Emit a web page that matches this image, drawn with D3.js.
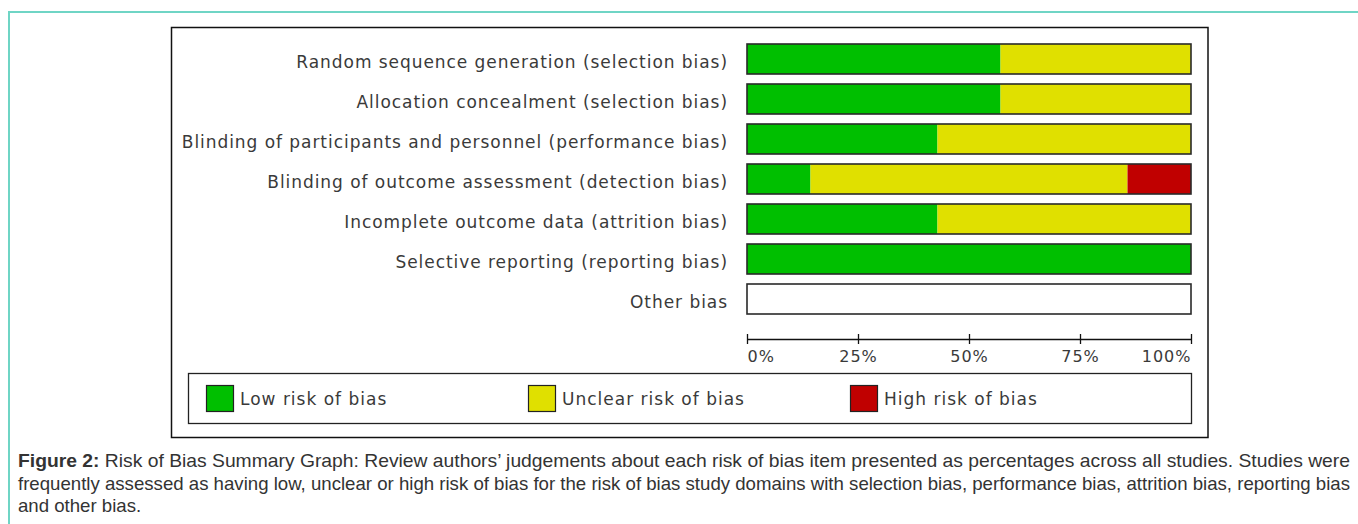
<!DOCTYPE html>
<html>
<head>
<meta charset="utf-8">
<script src="https://cdn.jsdelivr.net/npm/d3@7"></script>
<style>
  body { margin: 0; background: #fff; }
  svg { display: block; }
  .lbl { font-family: "DejaVu Sans", Verdana, sans-serif; fill: #3a3a3a; }
  .cap { font-family: "Liberation Sans", Arial, sans-serif; fill: #333; font-size: 18.5px; }
</style>
</head>
<body>
<svg id="chart"></svg>
<script>
// Chart data (percent of studies, 7 studies)
const domains = [
  "Random sequence generation (selection bias)",
  "Allocation concealment (selection bias)",
  "Blinding of participants and personnel (performance bias)",
  "Blinding of outcome assessment (detection bias)",
  "Incomplete outcome data (attrition bias)",
  "Selective reporting (reporting bias)",
  "Other bias"
];
const lowRisk     = [57.1, 57.1, 42.9, 14.3, 42.9, 100, 0];
const unclearRisk = [42.9, 42.9, 57.1, 71.4, 57.1, 0, 0];
const highRisk    = [0, 0, 0, 14.3, 0, 0, 0];
const riskKeys = ["low", "unclear", "high"];
const legendLabels = ["Low risk of bias", "Unclear risk of bias", "High risk of bias"];
const tickValues = [0, 25, 50, 75, 100];

const captionLines = [
  ["Figure 2:", " Risk of Bias Summary Graph: Review authors\u2019 judgements about each risk of bias item presented as percentages across all studies. Studies were"],
  ["", "frequently assessed as having low, unclear or high risk of bias for the risk of bias study domains with selection bias, performance bias, attrition bias, reporting bias"],
  ["", "and other bias."]
];

const W = 1358, H = 524;
const svg = d3.select("#chart").attr("width", W).attr("height", H);

// page frame (teal rule top and left)
svg.append("path")
  .attr("d", `M9,${H} V12 H${W}`)
  .attr("fill", "none")
  .attr("stroke", "#6fd5c5")
  .attr("stroke-width", 2);

// figure box
svg.append("rect")
  .attr("x", 171.5).attr("y", 27.5)
  .attr("width", 1036.5).attr("height", 410)
  .attr("fill", "#fff")
  .attr("stroke", "#111")
  .attr("stroke-width", 1.5);

const data = domains.map((d, i) => ({
  domain: d, low: lowRisk[i], unclear: unclearRisk[i], high: highRisk[i]
}));

const x = d3.scaleLinear().domain([0, 100]).range([747, 1191]);
const y = d3.scaleBand().domain(domains).range([44, 314]).paddingInner(0.25);
const color = d3.scaleOrdinal().domain(riskKeys).range(["#00bf00", "#e0e000", "#c00000"]);

// row labels
svg.append("g").selectAll("text")
  .data(domains)
  .enter().append("text")
  .attr("class", "lbl")
  .attr("x", 728)
  .attr("y", d => y(d) + y.bandwidth() / 2 + 4)
  .attr("text-anchor", "end")
  .attr("dominant-baseline", "middle")
  .style("font-size", "17px")
  .style("letter-spacing", "0.95px")
  .text(d => d);

// bar backgrounds (white, for empty rows)
svg.append("g").selectAll("rect")
  .data(domains)
  .enter().append("rect")
  .attr("x", x(0)).attr("y", d => y(d))
  .attr("width", x(100) - x(0)).attr("height", y.bandwidth())
  .attr("fill", "#fff");

// stacked segments
const layers = d3.stack().keys(riskKeys)(data);
svg.append("g").selectAll("g")
  .data(layers)
  .enter().append("g")
  .attr("fill", d => color(d.key))
  .selectAll("rect")
  .data(d => d)
  .enter().append("rect")
  .attr("x", d => x(d[0]))
  .attr("y", d => y(d.data.domain))
  .attr("width", d => x(d[1]) - x(d[0]))
  .attr("height", y.bandwidth());

// bar outlines
svg.append("g").selectAll("rect")
  .data(domains)
  .enter().append("rect")
  .attr("x", x(0)).attr("y", d => y(d))
  .attr("width", x(100) - x(0)).attr("height", y.bandwidth())
  .attr("fill", "none")
  .attr("stroke", "#2a2a2a")
  .attr("stroke-width", 1.6);

// x axis
const xAxis = d3.axisBottom(x)
  .tickValues(tickValues)
  .tickSizeInner(5)
  .tickSizeOuter(0)
  .tickFormat(d => d + "%");
const ax = svg.append("g")
  .attr("transform", "translate(0,339)")
  .call(xAxis);
ax.select(".domain").attr("stroke", "#111").attr("stroke-width", 1.3);
ax.selectAll(".tick line").attr("y1", -5).attr("y2", 5).attr("stroke", "#111").attr("stroke-width", 1.3);
ax.selectAll(".tick text")
  .attr("class", "lbl")
  .attr("y", 17)
  .attr("dy", "0.35em")
  .style("font-size", "16px")
  .style("letter-spacing", "1px")
  .attr("text-anchor", (d, i) => i === 0 ? "start" : (i === tickValues.length - 1 ? "end" : "middle"));

// legend
svg.append("rect")
  .attr("x", 188.5).attr("y", 373.5)
  .attr("width", 1003).attr("height", 50)
  .attr("fill", "none")
  .attr("stroke", "#222")
  .attr("stroke-width", 1.3);

const legendX = [206, 528, 850];
const lg = svg.append("g").selectAll("g")
  .data(riskKeys)
  .enter().append("g")
  .attr("transform", (d, i) => `translate(${legendX[i]},385)`);
lg.append("rect")
  .attr("x", 0.5).attr("y", 0.5)
  .attr("width", 27).attr("height", 26)
  .attr("fill", d => color(d))
  .attr("stroke", "#222")
  .attr("stroke-width", 1.2);
lg.append("text")
  .attr("class", "lbl")
  .attr("x", 34)
  .attr("y", 15)
  .attr("dominant-baseline", "middle")
  .style("font-size", "17px")
  .style("letter-spacing", "1px")
  .text((d, i) => legendLabels[i]);

// caption: condensed, justified lines
const capY = [467, 490, 512];
const capNodes = captionLines.map((line, i) => {
  const t = svg.append("text")
    .attr("class", "cap")
    .attr("x", 18)
    .attr("y", capY[i]);
  if (line[0]) t.append("tspan").attr("font-weight", "bold").text(line[0]);
  t.append("tspan").text(line[1]);
  return t;
});
const ratio = 1332 / capNodes[1].node().getComputedTextLength();
capNodes.forEach((t, i) => {
  const len = i < 2 ? 1332 : t.node().getComputedTextLength() * ratio;
  t.attr("textLength", len).attr("lengthAdjust", "spacingAndGlyphs");
});
</script>
</body>
</html>
